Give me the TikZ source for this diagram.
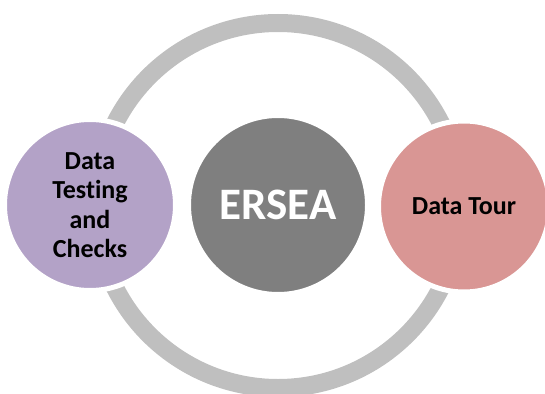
\documentclass[tikz,border=0pt]{standalone}
\usepackage{fontspec}
\setmainfont[Ligatures=NoCommon]{Carlito}
\usetikzlibrary{shapes.geometric}
\definecolor{ringgray}{HTML}{BFBFBF}
\definecolor{coregray}{HTML}{7F7F7F}
\definecolor{lilac}{HTML}{B3A2C7}
\definecolor{rose}{HTML}{D99694}

\begin{document}
\begin{tikzpicture}[x=1pt, y=-1pt,
	bubble/.style={circle, draw=white, line width=5pt, inner sep=0pt, align=center, font=\bfseries\fontsize{26}{29.5}\selectfont}]
			%%%%% START %%%%%
			
			\useasboundingbox (0, 0) rectangle (545, 393);
			
			\draw[line width=18pt, color=ringgray] (278, 205.5) circle (182.5);
			
			\node[bubble, fill=coregray, minimum size=179pt, text=white, font=\bfseries\fontsize{45}{50}\selectfont] (ersea) at (278, 205) {ERSEA};
			
			\node[bubble, fill=lilac, minimum size=171pt] (testing) at (90, 205) {Data\\Testing\\and\\Checks};
			
			\node[bubble, fill=rose, minimum size=171pt] (tour) at (464, 206.5) {Data Tour};
			
			%%%%% END %%%%%
		\end{tikzpicture}
\end{document}
